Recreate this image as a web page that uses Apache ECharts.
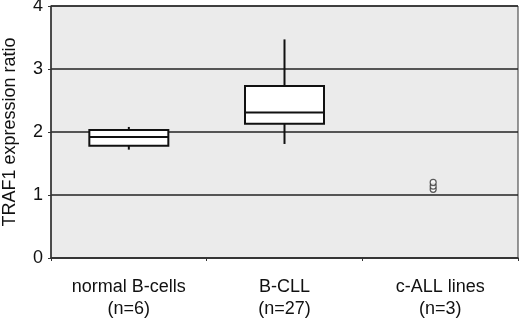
<!DOCTYPE html>
<html>
<head>
<meta charset="utf-8">
<script src="https://cdn.jsdelivr.net/npm/echarts@6/dist/echarts.min.js"></script>
<style>
html, body { margin: 0; padding: 0; background: #fff; }
#chart { width: 520px; height: 320px; }
</style>
</head>
<body>
<div id="chart"></div>
<script>
// groups on the x axis
const categories = ['normal B-cells\n(n=6)', 'B-CLL\n(n=27)', 'c-ALL lines\n(n=3)']
// box stats: [whiskerLow, q1, median, q3, whiskerHigh]
const boxStats = [
  [1.72, 1.78, 1.92, 2.03, 2.08],
  [1.81, 2.13, 2.31, 2.73, 3.47]
]
// individual points for c-ALL lines
const pointValues = [1.09, 1.14, 1.20]
const yTicks = [0, 1, 2, 3, 4]

const chart = echarts.init(document.getElementById('chart'))
const font = 'Liberation Sans, Arial, sans-serif'

const boxData = boxStats.map((s, i) => [i].concat(s))

chart.setOption({
  animation: false,
  grid: {
    left: 51, right: 2, top: 6, bottom: 62,
    outerBoundsMode: 'none',
    containLabel: false,
    show: true,
    backgroundColor: '#ebebeb',
    borderColor: '#333',
    borderWidth: 1
  },
  xAxis: {
    type: 'category',
    data: categories,
    axisLine: { lineStyle: { color: '#333', width: 1.5 } },
    axisTick: { show: true, length: 3, lineStyle: { color: '#333' } },
    axisLabel: {
      color: '#111', fontFamily: font, fontSize: 18, lineHeight: 22, margin: 18
    }
  },
  yAxis: {
    type: 'value',
    min: yTicks[0],
    max: yTicks[yTicks.length - 1],
    interval: 1,
    name: 'TRAF1 expression ratio',
    nameLocation: 'middle',
    nameGap: 32,
    nameTextStyle: { color: '#111', fontFamily: font, fontSize: 18 },
    axisLine: { show: true, lineStyle: { color: '#333', width: 1.5 } },
    axisTick: { show: true, length: 3, lineStyle: { color: '#333' } },
    axisLabel: { color: '#111', fontFamily: font, fontSize: 18, margin: 8 },
    splitLine: { lineStyle: { color: '#222', width: 1.5 } }
  },
  series: [
    {
      type: 'custom',
      data: boxData,
      renderItem: function (params, api) {
        const x = api.value(0)
        const lo = api.coord([x, api.value(1)])
        const q1 = api.coord([x, api.value(2)])
        const med = api.coord([x, api.value(3)])
        const q3 = api.coord([x, api.value(4)])
        const hi = api.coord([x, api.value(5)])
        const half = 39.5
        const cx = lo[0]
        const st = { stroke: '#111', lineWidth: 2, fill: null }
        return {
          type: 'group',
          children: [
            { type: 'line', shape: { x1: cx, y1: hi[1], x2: cx, y2: q3[1] }, style: st },
            { type: 'line', shape: { x1: cx, y1: q1[1], x2: cx, y2: lo[1] }, style: st },
            { type: 'rect', shape: { x: cx - half, y: q3[1], width: half * 2, height: q1[1] - q3[1] },
              style: { stroke: '#111', lineWidth: 2, fill: '#fff' } },
            { type: 'line', shape: { x1: cx - half, y1: med[1], x2: cx + half, y2: med[1] }, style: st }
          ]
        }
      }
    },
    {
      type: 'scatter',
      data: pointValues.map(v => [2, v]),
      symbol: 'circle',
      symbolSize: 6,
      symbolOffset: [-7, 0],
      itemStyle: { color: '#fff', borderColor: '#333', borderWidth: 1.2 }
    }
  ]
})
</script>
</body>
</html>
